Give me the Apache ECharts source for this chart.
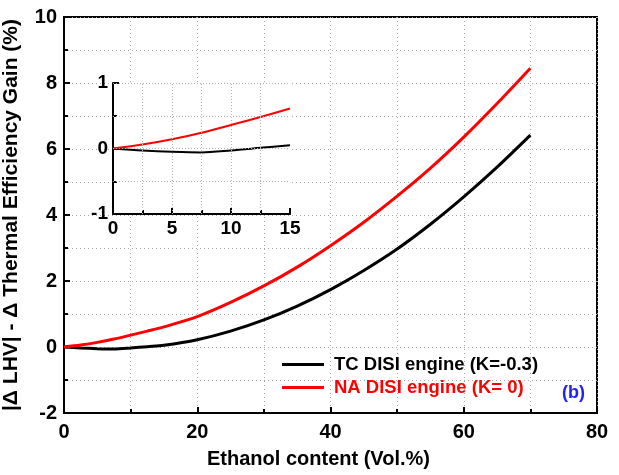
<!DOCTYPE html>
<html>
<head>
<meta charset="utf-8">
<script src="https://cdn.jsdelivr.net/npm/echarts@6/dist/echarts.min.js"></script>
<style>
html,body{margin:0;padding:0;background:#fff;}
#chart{width:619px;height:475px;}
</style>
</head>
<body>
<div id="chart"></div>
<script>
// Ethanol content (Vol.%)
const ethanol = [0, 2.5, 5, 7.5, 10, 12.5, 15, 20, 25, 30, 35, 40, 45, 50, 55, 60, 65, 70];
// |ΔLHV| - ΔThermal efficiency gain (%)
const tcDisi = [0, -0.03, -0.05, -0.06, -0.03, 0.01, 0.05, 0.22, 0.48, 0.82, 1.24, 1.74, 2.32, 2.97, 3.72, 4.55, 5.45, 6.42];
const naDisi = [0, 0.06, 0.14, 0.24, 0.36, 0.48, 0.61, 0.92, 1.35, 1.85, 2.42, 3.07, 3.78, 4.57, 5.42, 6.36, 7.38, 8.45];
const seriesNames = ['TC DISI engine (K=-0.3)', 'NA DISI engine (K= 0)'];
const insetMaxX = 15;
// Inset grid line positions
const insetGridX = [2.5, 5, 7.5, 10, 12.5];
const insetGridY = [-0.5, 0, 0.5, 1];

const pairs = (ys) => ethanol.map((x, i) => [x, ys[i]]);
const insetPairs = (ys) => pairs(ys).filter(p => p[0] <= insetMaxX);

const FONT = 'Liberation Sans, Arial, sans-serif';
const dotted = { color: '#a8a8a8', type: [1, 3], width: 1 };
const insetGridLine = { color: '#b4b4b4', type: [1, 2], width: 1 };

function valueAxis(extra, showGrid) {
  const g = showGrid !== false;
  return Object.assign({
    type: 'value',
    axisLine: { show: true, onZero: false, lineStyle: { color: '#000', width: 2 } },
    axisTick: { show: true, inside: true, length: 6, lineStyle: { color: '#000', width: 2 } },
    minorTick: { show: true, splitNumber: 2, length: 4, lineStyle: { color: '#000', width: 2 } },
    splitLine: { show: g, lineStyle: dotted },
    minorSplitLine: { show: g, lineStyle: dotted }
  }, extra);
}
const tickFont = (size, margin) => ({ color: '#000', fontFamily: FONT, fontWeight: 'bold', fontSize: size, margin: margin });

const chart = echarts.init(document.getElementById('chart'), null, { renderer: 'canvas' });
chart.setOption({
  animation: false,
  backgroundColor: '#fff',
  grid: [
    { left: 64, right: 22, top: 17, bottom: 62, show: true, borderColor: '#000', borderWidth: 2,
      containLabel: false, outerBoundsMode: 'none' },
    { left: 113, top: 83, width: 177, height: 131, show: true, backgroundColor: '#fff', borderWidth: 0,
      z: 1, containLabel: false, outerBoundsMode: 'none' }
  ],
  xAxis: [
    valueAxis({
      gridIndex: 0, min: 0, max: 80, interval: 20,
      name: 'Ethanol content (Vol.%)', nameLocation: 'middle', nameGap: 36,
      nameTextStyle: { color: '#000', fontFamily: FONT, fontWeight: 'bold', fontSize: 20, padding: [0, 24, 0, 0] },
      axisLabel: tickFont(20, 9)
    }),
    valueAxis({
      gridIndex: 1, min: 0, max: 15, interval: 5, z: 3,
      axisLabel: tickFont(19, 5)
    }, false)
  ],
  yAxis: [
    valueAxis({
      gridIndex: 0, min: -2, max: 10, interval: 2,
      name: '|Δ LHV| - Δ Thermal Efficiency Gain (%)', nameLocation: 'middle', nameGap: 42,
      nameTextStyle: { color: '#000', fontFamily: FONT, fontWeight: 'bold', fontSize: 21 },
      axisLabel: tickFont(20, 7)
    }),
    valueAxis({
      gridIndex: 1, min: -1, max: 1, interval: 1, z: 3,
      axisLabel: tickFont(19, 5)
    }, false)
  ],
  legend: {
    orient: 'vertical', left: 277, top: 350, itemWidth: 42, itemHeight: 3, itemGap: 4,
    icon: 'rect',
    data: [
      { name: seriesNames[0], textStyle: { color: '#000' } },
      { name: seriesNames[1], textStyle: { color: '#ff0000' } }
    ],
    textStyle: { fontFamily: FONT, fontWeight: 'bold', fontSize: 18.5, padding: [0, 0, 0, 5] }
  },
  graphic: [
    { type: 'text', left: 562, top: 384,
      style: { text: '(b)', fill: '#2020ff', font: 'bold 18px ' + FONT } }
  ],
  series: [
    { name: seriesNames[0], type: 'line', xAxisIndex: 0, yAxisIndex: 0, data: pairs(tcDisi),
      smooth: 0.3, showSymbol: false, color: '#000', lineStyle: { color: '#000', width: 3 } },
    { name: seriesNames[1], type: 'line', xAxisIndex: 0, yAxisIndex: 0, data: pairs(naDisi),
      smooth: 0.3, showSymbol: false, color: '#ff0000', lineStyle: { color: '#ff0000', width: 3 } },
    // inset grid lines
    { name: 'inset grid', type: 'line', xAxisIndex: 1, yAxisIndex: 1, data: [], z: 3, silent: true,
      markLine: {
        silent: true, symbol: 'none', animation: false,
        label: { show: false }, lineStyle: insetGridLine,
        emphasis: { disabled: true },
        data: insetGridX.map(v => ({ xAxis: v })).concat(insetGridY.map(v => ({ yAxis: v })))
      } },
    { name: seriesNames[0] + ' inset', type: 'line', xAxisIndex: 1, yAxisIndex: 1, data: insetPairs(tcDisi),
      z: 4, smooth: 0.3, showSymbol: false, color: '#000', lineStyle: { color: '#000', width: 2 } },
    { name: seriesNames[1] + ' inset', type: 'line', xAxisIndex: 1, yAxisIndex: 1, data: insetPairs(naDisi),
      z: 4, smooth: 0.3, showSymbol: false, color: '#ff0000', lineStyle: { color: '#ff0000', width: 2 } }
  ]
});
</script>
</body>
</html>
